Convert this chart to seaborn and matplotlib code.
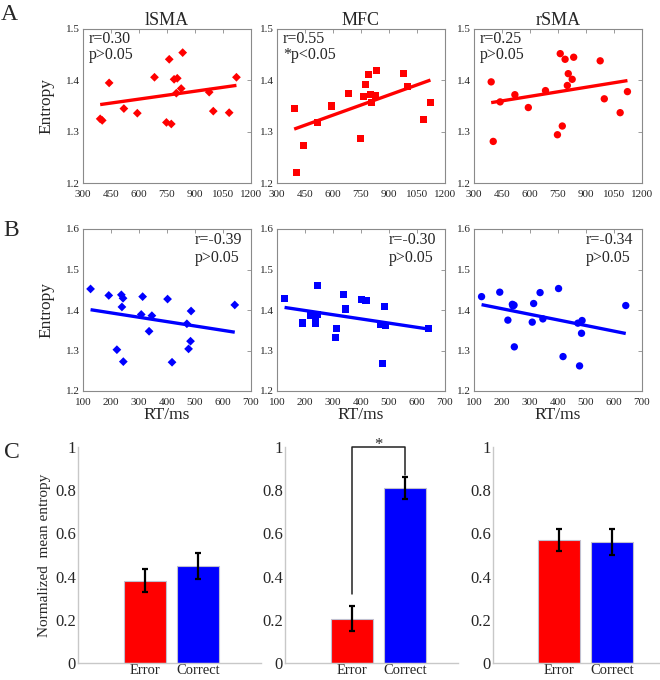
import numpy as np
import pandas as pd
import seaborn as sns
import matplotlib
matplotlib.use('Agg')
import matplotlib.pyplot as plt

sns.set_style('white')
plt.rcParams['font.family'] = ['Liberation Serif', 'DejaVu Serif']

# data
regions = ['lSMA', 'MFC', 'rSMA']
markers = ['D', 's', 'o']
marker_sizes = [20, 26, 28]

# A: entropy vs RT (ms), red
rt_a = [392, 403, 440, 519, 591, 683, 747, 762, 773, 788, 800, 805, 826, 834, 976, 998, 1083, 1122]
ent_a_lsma = [1.325, 1.322, 1.395, 1.345, 1.336, 1.406, 1.318, 1.441, 1.315, 1.402, 1.375, 1.404,
              1.384, 1.454, 1.377, 1.340, 1.337, 1.406]
ent_a_mfc = [1.346, 1.221, 1.273, 1.317, 1.350, 1.374, 1.287, 1.368, 1.391, 1.411, 1.372, 1.357,
             1.371, 1.419, 1.414, 1.388, 1.324, 1.356]
ent_a_rsma = [1.397, 1.281, 1.358, 1.372, 1.347, 1.380, 1.294, 1.452, 1.311, 1.441, 1.390, 1.413,
              1.402, 1.445, 1.438, 1.364, 1.337, 1.378]
stats_a = [('r=0.30', 'p>0.05'), ('r=0.55', '*p<0.05'), ('r=0.25', 'p>0.05')]

# B: entropy vs RT (ms), blue
rt_b = [127, 192, 221, 237, 239, 243, 244, 308, 313, 336, 346, 402, 418, 471, 477, 484, 486, 642]
ent_b_lsma = [1.452, 1.436, 1.302, 1.4375, 1.4075, 1.429, 1.2725, 1.389, 1.433, 1.3475, 1.386, 1.427,
              1.271, 1.366, 1.304, 1.323, 1.3975, 1.4125]
ent_b_mfc = [1.4275, 1.368, 1.3875, 1.368, 1.372, 1.389, 1.461, 1.3325, 1.355, 1.4375, 1.4025, 1.427,
             1.424, 1.365, 1.268, 1.408, 1.3625, 1.354]
ent_b_rsma = [1.433, 1.444, 1.375, 1.414, 1.41, 1.412, 1.309, 1.37, 1.416, 1.443, 1.378, 1.453,
              1.285, 1.3675, 1.262, 1.3425, 1.374, 1.411]
stats_b = [('r=-0.39', 'p>0.05'), ('r=-0.30', 'p>0.05'), ('r=-0.34', 'p>0.05')]

# C: normalized mean entropy, error vs correct
groups = ['Error', 'Correct']
mean_c = [[0.38, 0.449], [0.205, 0.81], [0.571, 0.56]]
sem_c = [[0.053, 0.06], [0.058, 0.052], [0.051, 0.061]]

W, H = 660, 680
fig = plt.figure(figsize=(W / 100, H / 100), dpi=100)


def px_axes(left, top, right, bottom):
    return fig.add_axes([left / W, (H - bottom) / H, (right - left) / W, (bottom - top) / H])


def style_box(ax):
    for s in ax.spines.values():
        s.set_color('#8a8a8a')
        s.set_linewidth(0.8)
    ax.tick_params(direction='in', length=3, width=0.6, color='#8a8a8a',
                   top=True, right=True, labelsize=8, pad=2.5)
    ax.tick_params(axis='x', pad=5)


# rows A and B
scatter_lefts = [83, 277, 474]
rows = [
    (rt_a, [ent_a_lsma, ent_a_mfc, ent_a_rsma], 'red', (29, 183), (300, 1200), np.arange(300, 1201, 150),
     (1.2, 1.5), [1.2, 1.3, 1.4, 1.5], stats_a),
    (rt_b, [ent_b_lsma, ent_b_mfc, ent_b_rsma], 'blue', (229, 391), (100, 700), np.arange(100, 701, 100),
     (1.2, 1.6), [1.2, 1.3, 1.4, 1.5, 1.6], stats_b),
]
for r, (rt, ents, col, (top, bot), xl, xt, yl, yt, stats) in enumerate(rows):
    for i in range(3):
        ax = px_axes(scatter_lefts[i], top, scatter_lefts[i] + 168, bot)
        df = pd.DataFrame({'rt': rt, 'entropy': ents[i]})
        sns.regplot(data=df, x='rt', y='entropy', ax=ax, ci=None, marker=markers[i], color=col,
                    scatter_kws=dict(s=marker_sizes[i], edgecolor='none', alpha=1),
                    line_kws=dict(lw=2.4, solid_capstyle='butt'))
        ax.set_xlim(*xl)
        ax.set_ylim(*yl)
        ax.set_xticks(xt)
        ax.set_yticks(yt)
        ax.set_yticklabels([f'{v:g}' for v in yt])
        style_box(ax)
        ax.set_xlabel('')
        ax.set_ylabel('')
        if r == 0:
            ax.set_title(regions[i], fontsize=13, pad=3)
            ax.text(0.035, 0.935, stats[i][0], transform=ax.transAxes, fontsize=11.5, va='center')
            ax.text(0.035, 0.83, stats[i][1], transform=ax.transAxes, fontsize=11.5, va='center')
        else:
            ax.set_xlabel('RT/ms', fontsize=12.5, labelpad=0)
            ax.text(0.665, 0.935, stats[i][0], transform=ax.transAxes, fontsize=11.5, va='center')
            ax.text(0.665, 0.82, stats[i][1], transform=ax.transAxes, fontsize=11.5, va='center')
        if i == 0:
            ax.set_ylabel('Entropy', fontsize=12.5, labelpad=8)

# row C
bar_boxes = [(78, 261, (-1.26, 2.19)), (285, 458, (-1.26, 2.0)), (493, 660, (-1.25, 1.9))]
for i, (lpx, rpx, xlim) in enumerate(bar_boxes):
    ax = px_axes(lpx, 447, rpx, 663)
    df = pd.DataFrame({'group': groups, 'value': mean_c[i]})
    sns.barplot(data=df, x='group', y='value', hue='group', palette=['#ff0000', '#0000ff'],
                ax=ax, width=0.8, errorbar=None, legend=False, edgecolor='#c0c0d0', linewidth=0.8,
                saturation=1)
    ax.errorbar(range(len(groups)), mean_c[i], yerr=sem_c[i], fmt='none', ecolor='black',
                elinewidth=1.6, capsize=2, capthick=1.6)
    ax.set_xlim(*xlim)
    ax.set_ylim(0, 1)
    ax.set_yticks([0, 0.2, 0.4, 0.6, 0.8, 1])
    ax.set_yticklabels(['0', '0.2', '0.4', '0.6', '0.8', '1'])
    sns.despine(ax=ax)
    for s in ['left', 'bottom']:
        ax.spines[s].set_color('#c8c8c8')
        ax.spines[s].set_linewidth(1.0)
    ax.tick_params(length=0, labelsize=12, pad=1.5)
    ax.tick_params(axis='x', labelsize=10.5, pad=1)
    ax.set_xlabel('')
    ax.set_ylabel('')
    if i == 0:
        ax.set_ylabel('Normalized  mean entropy', fontsize=11, labelpad=3)
    if i == 1:
        # significance bracket
        lo_l, top_y, lo_r = 0.32, 1.0, 0.87
        ax.plot([0, 0, 1, 1], [lo_l, top_y, top_y, lo_r], color='#222222', lw=1.1, clip_on=False)
        ax.text(0.5, top_y - 0.03, '*', ha='center', va='bottom', fontsize=12)

# panel letters
fig.text(9 / W, 1 - 14 / H, 'A', fontsize=17, ha='center', va='center')
fig.text(11 / W, 1 - 230 / H, 'B', fontsize=17, ha='center', va='center')
fig.text(12 / W, 1 - 452 / H, 'C', fontsize=17, ha='center', va='center')

fig.savefig('out.png', dpi=100)
